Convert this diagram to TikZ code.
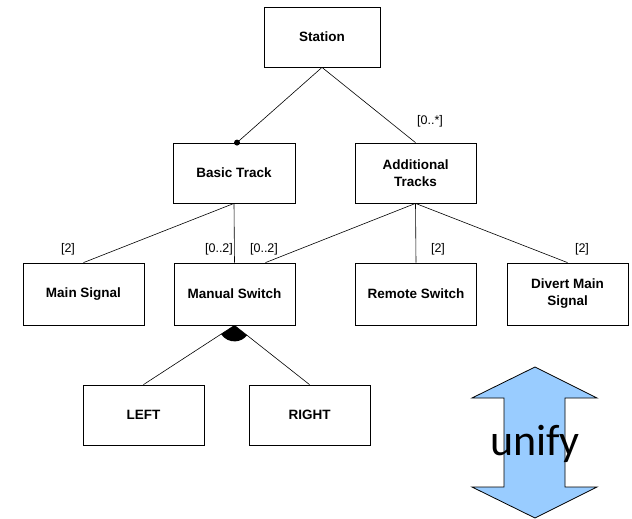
\documentclass[tikz,border=0pt]{standalone}
\usepackage{fontspec}
\setmainfont{Liberation Sans}
\newfontfamily\unifyfont{Carlito}
\usetikzlibrary{calc,positioning}

\begin{document}
\begin{tikzpicture}[x=1pt,y=-1pt,
		box/.style = {draw, line width=0.8pt, minimum width=121pt, minimum height=60pt, align=center, inner sep=2pt, font=\fontsize{13.5}{17}\selectfont\bfseries},
		card/.style = {font=\fontsize{12.5}{14}\selectfont},
		link/.style = {line width=0.6pt}]
		\useasboundingbox (0,0) rectangle (632,519);
		
		\node[box, minimum width=116pt] (station) at (322,37) {Station};
		\node[box, minimum width=122pt] (basic) at (234,173) {Basic Track};
		\node[box] (additional) at (415.5,173) {Additional\\Tracks};
		
		\node[box, minimum height=62pt] (mainsig) at (83.5,294) {Main Signal};
		\node[box, minimum height=62pt] (manual) at (234.5,294) {Manual Switch};
		\node[box, minimum height=62pt] (remote) at (416,294) {Remote Switch};
		\node[box, minimum height=62pt] (divert) at (567.5,294) {Divert Main\\Signal};
		
		\node[box] (left) at (143.5,415) {LEFT};
		\node[box] (right) at (309.5,415) {RIGHT};
		
		\coordinate (BT) at ($(basic.north)+(3,0)$);
		\coordinate (MA) at ($(manual.north)+(31,0)$);
		
		\draw[link] (station.south) -- (BT);
		\fill (BT) circle [radius = 3];
		\draw[link] (station.south) -- (additional.north);
		\draw[link] (basic.south) -- (mainsig.north);
		\draw[link] (basic.south) -- (manual.north);
		\draw[link] (additional.south) -- (MA);
		\draw[link] (additional.south) -- (remote.north);
		\draw[link] (additional.south) -- (divert.north);
		\draw[link] (manual.south) -- (left.north);
		\draw[link] (manual.south) -- (right.north);
		% y axis points down, so the angles change sign
		\fill let \p1 = ($(left.north)-(manual.south)$), \p2 = ($(right.north)-(manual.south)$),
			\n1 = {-atan2(\y1,\x1)}, \n2 = {-atan2(\y2,\x2)} in
			(manual.south) -- ++(\n1:16) arc [start angle = \n1, end angle = \n2, radius = 16] -- cycle;
		
		\node[card] (cadd) at (430,121) {[0..*]};
		\node[card] (cmain) at (68,249) {[2]};
		\node[card] (cman1) at (219,249) {[0..2]};
		\node[card] (cman2) at (264,249) {[0..2]};
		\node[card] (crem) at (438,249) {[2]};
		\node[card] (cdiv) at (582,249) {[2]};
		
		\draw[line width=0.8pt, fill={rgb,255:red,153;green,204;blue,255}]
			(535,367) -- (597,398) -- (565,398) -- (565,487) -- (597,487) -- (535,518)
			-- (472,487) -- (504,487) -- (504,398) -- (472,398) -- cycle;
		\node[font=\unifyfont\fontsize{44}{50}\selectfont] (unify) at (535,444) {unify};
	\end{tikzpicture}
\end{document}
